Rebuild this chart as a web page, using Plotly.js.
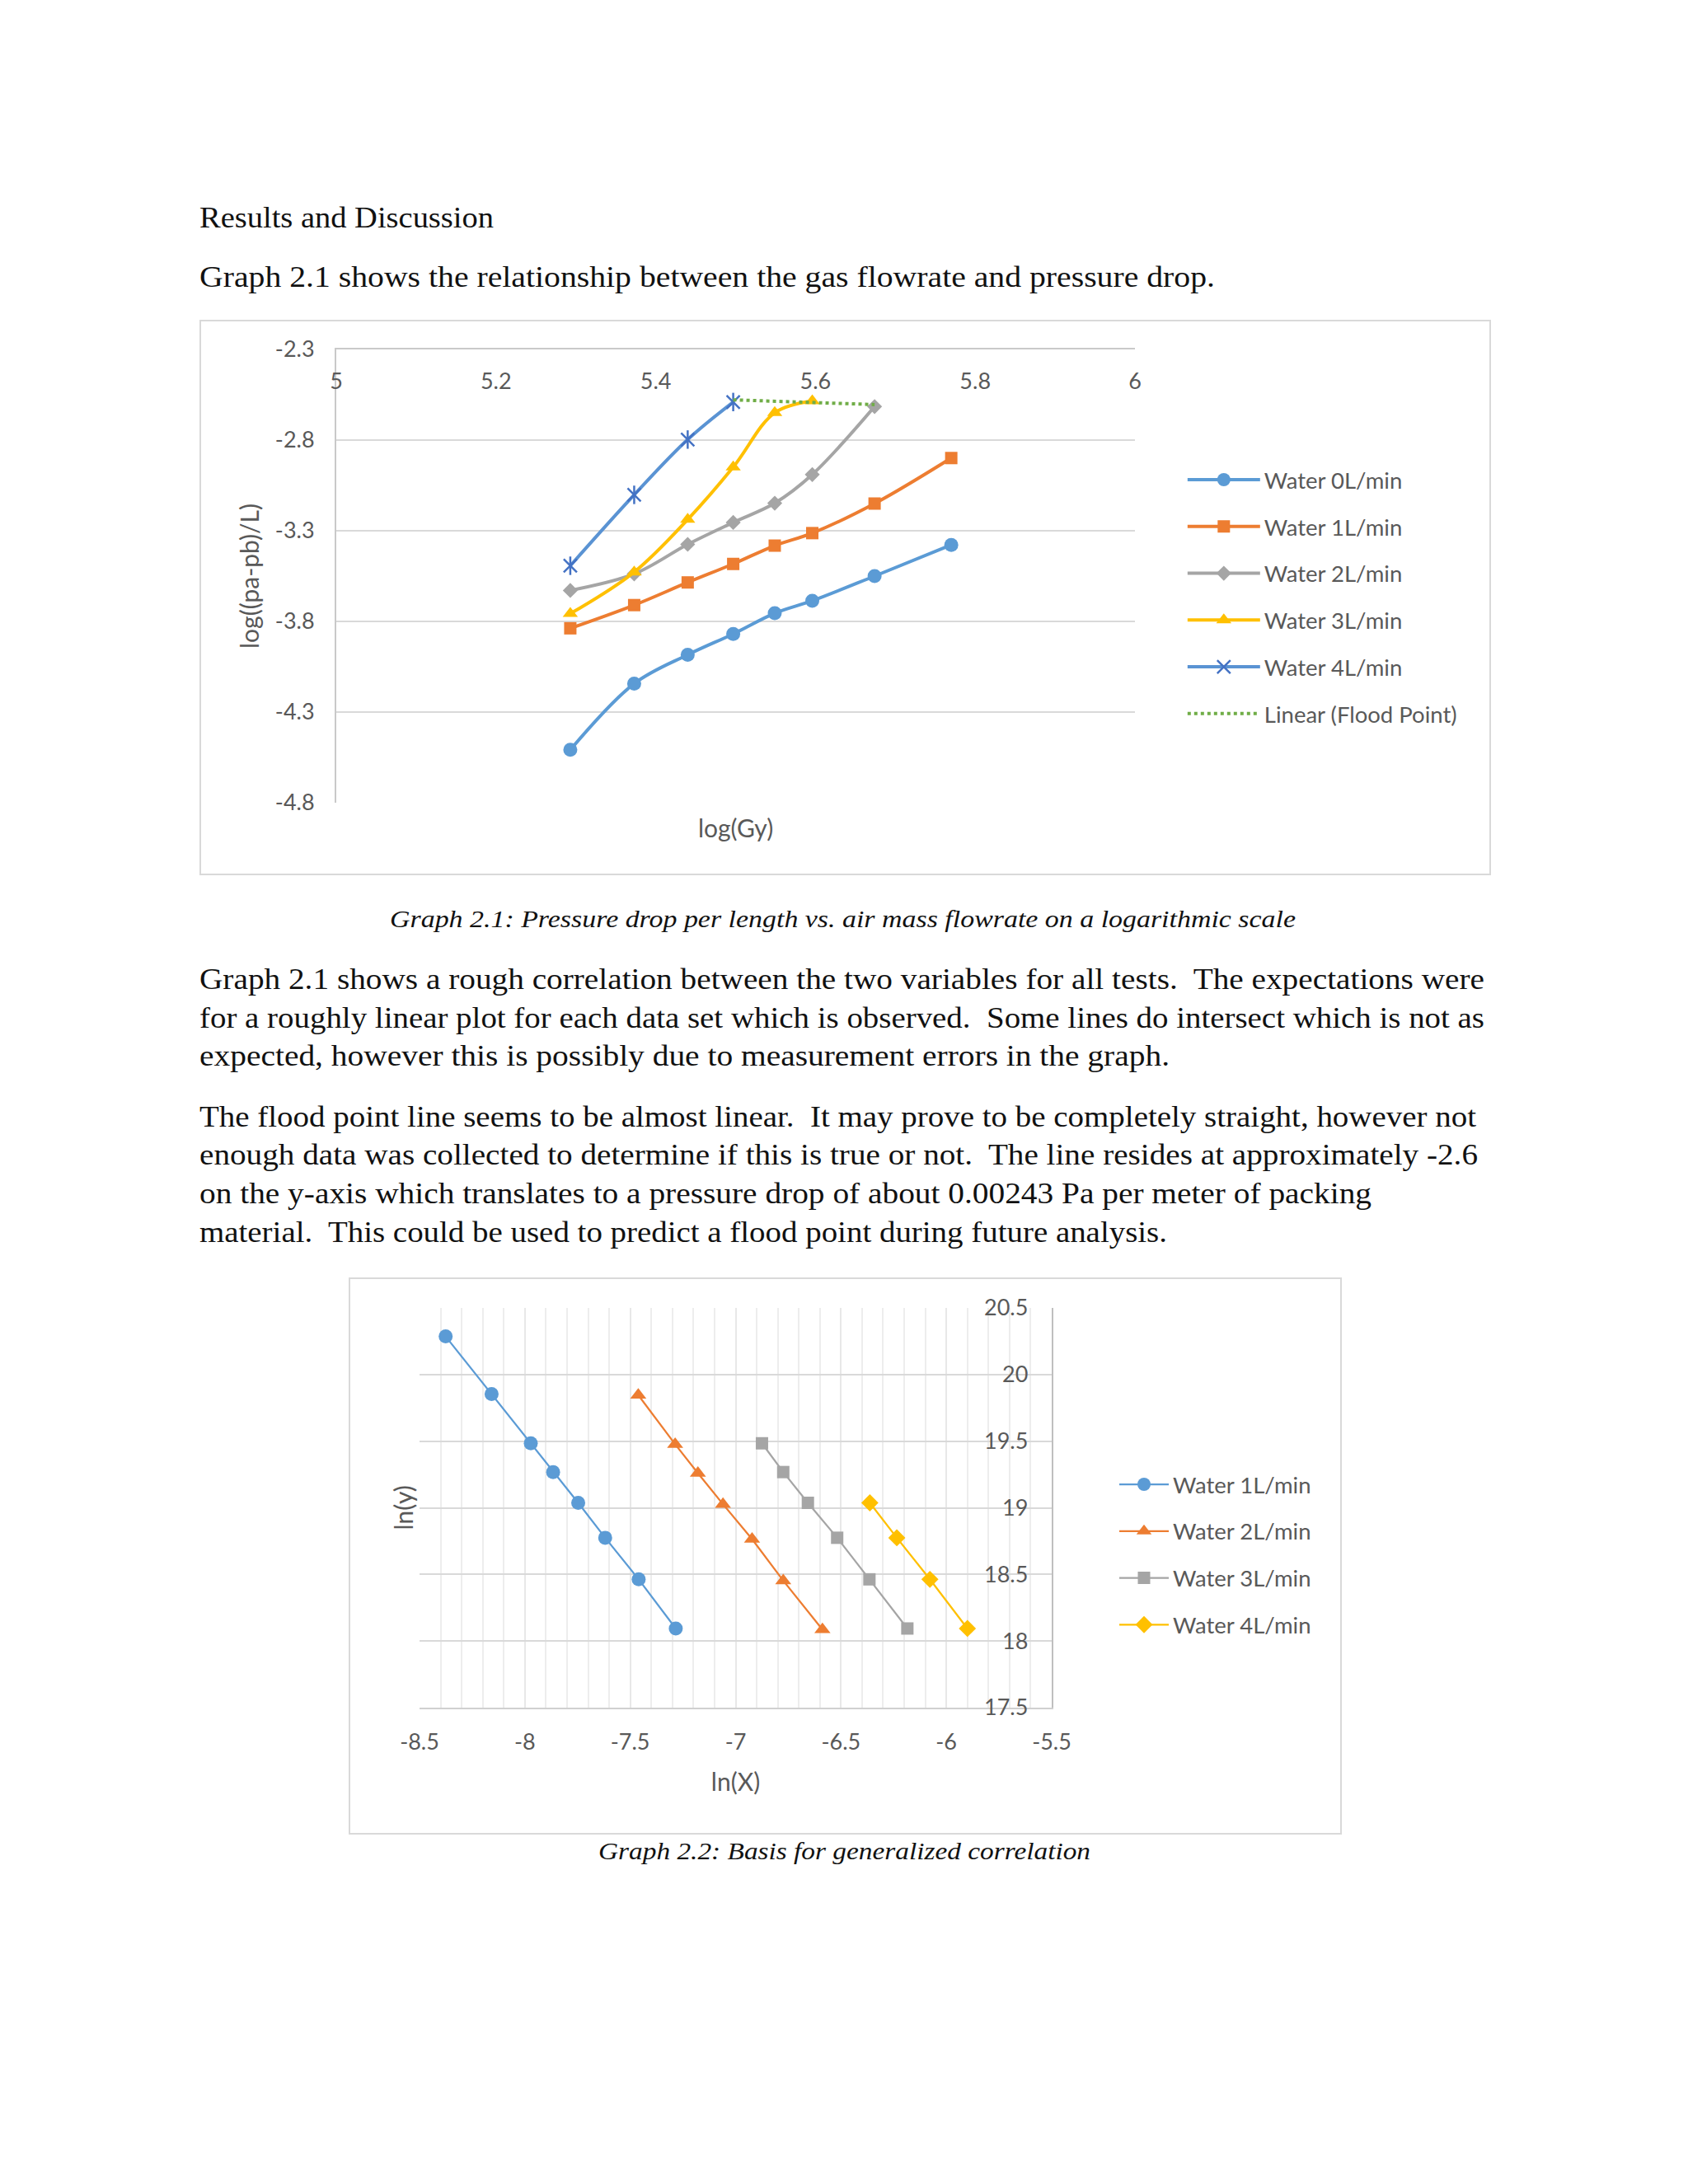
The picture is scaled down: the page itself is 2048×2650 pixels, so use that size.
<!DOCTYPE html>
<html><head><meta charset="utf-8">
<script src="https://cdn.plot.ly/plotly-3.0.1.min.js"></script>
<style>
html,body{margin:0;padding:0;background:#fff;}
#page{position:relative;width:2048px;height:2650px;background:#fff;overflow:hidden;}
.ln{position:absolute;white-space:pre;font-family:"Liberation Serif","Times New Roman",serif;color:#111;transform-origin:0 0;line-height:1;}
.frame{position:absolute;box-sizing:border-box;border:2px solid #D9D9D9;}
.plot{position:absolute;}
</style></head>
<body>
<div id="page">
  <div class="frame" style="left:242px;top:388px;width:1567px;height:674px;"></div>
  <div id="chart1" class="plot" style="left:242px;top:388px;width:1567px;height:674px;"></div>
  <div class="frame" style="left:423px;top:1550px;width:1205px;height:676px;"></div>
  <div id="chart2" class="plot" style="left:423px;top:1550px;width:1205px;height:676px;"></div>
</div>
<script>
// ---------- Graph 2.1 data ----------
const gyLog  = [5.293, 5.373, 5.440, 5.497, 5.549, 5.596, 5.674, 5.770];
const water0 = [-4.508, -4.143, -3.984, -3.869, -3.755, -3.686, -3.550, -3.378];
const water1 = [-3.838, -3.710, -3.585, -3.483, -3.382, -3.313, -3.150, -2.899];
const water2 = [-3.629, -3.538, -3.375, -3.254, -3.148, -2.990, -2.615];
const water3 = [-3.757, -3.528, -3.238, -2.949, -2.649, -2.584];
const water4 = [-3.493, -3.102, -2.797, -2.590];
const floodX = [5.497, 5.674];
const floodY = [-2.578, -2.604];
const x1Ticks  = [5, 5.2, 5.4, 5.6, 5.8, 6];
const x1Labels = ['5', '5.2', '5.4', '5.6', '5.8', '6'];
const y1Ticks  = [-4.8, -4.3, -3.8, -3.3, -2.8, -2.3];
const y1Labels = ['-4.8', '-4.3', '-3.8', '-3.3', '-2.8', '-2.3'];

// ---------- Graph 2.2 data ----------
const lnX1 = [-8.376, -8.158, -7.972, -7.866, -7.747, -7.619, -7.460, -7.284];
const lnY1 = [20.286, 19.854, 19.484, 19.268, 19.037, 18.775, 18.463, 18.094];
const lnX2 = [-7.462, -7.287, -7.179, -7.060, -6.922, -6.774, -6.588];
const lnY2 = [19.846, 19.477, 19.260, 19.027, 18.765, 18.453, 18.086];
const lnX3 = [-6.875, -6.774, -6.657, -6.518, -6.365, -6.185];
const lnY3 = [19.484, 19.268, 19.037, 18.775, 18.463, 18.094];
const lnX4 = [-6.363, -6.235, -6.078, -5.900];
const lnY4 = [19.037, 18.775, 18.463, 18.094];
const x2Ticks  = [-8.5, -8, -7.5, -7, -6.5, -6, -5.5];
const x2Labels = ['-8.5', '-8', '-7.5', '-7', '-6.5', '-6', '-5.5'];
const y2Ticks  = [17.5, 18, 18.5, 19, 19.5, 20, 20.5];
const y2Labels = ['17.5', '18', '18.5', '19', '19.5', '20', '20.5'];

// ---------- page text ----------
const textLines = [
  {t:"Results and Discussion", b:276, x:242, w:357, fs:35},
  {t:"Graph 2.1 shows the relationship between the gas flowrate and pressure drop.", b:348, x:242, w:1232, fs:35},
  {t:"Graph 2.1: Pressure drop per length vs. air mass flowrate on a logarithmic scale", b:1125, x:473, w:1099, fs:30, it:true},
  {t:"Graph 2.1 shows a rough correlation between the two variables for all tests.  The expectations were", b:1200, x:242, w:1559, fs:35},
  {t:"for a roughly linear plot for each data set which is observed.  Some lines do intersect which is not as", b:1247, x:242, w:1559, fs:35},
  {t:"expected, however this is possibly due to measurement errors in the graph.", b:1293, x:242, w:1177, fs:35},
  {t:"The flood point line seems to be almost linear.  It may prove to be completely straight, however not", b:1367, x:242, w:1549, fs:35},
  {t:"enough data was collected to determine if this is true or not.  The line resides at approximately -2.6", b:1413, x:242, w:1551, fs:35},
  {t:"on the y-axis which translates to a pressure drop of about 0.00243 Pa per meter of packing", b:1460, x:242, w:1422, fs:35},
  {t:"material.  This could be used to predict a flood point during future analysis.", b:1507, x:242, w:1174, fs:35},
  {t:"Graph 2.2: Basis for generalized correlation", b:2256, x:726, w:597, fs:30, it:true}
];
const page = document.getElementById('page');
textLines.forEach(L => {
  const d = document.createElement('div');
  d.className = 'ln';
  d.style.fontSize = L.fs + 'px';
  if (L.it) d.style.fontStyle = 'italic';
  d.style.left = L.x + 'px';
  d.style.top = '0px';
  d.textContent = L.t;
  const mark = document.createElement('span');
  mark.style.cssText = 'display:inline-block;width:0;height:0;vertical-align:baseline;';
  d.appendChild(mark);
  page.appendChild(d);
  const base = mark.offsetTop;
  const wNat = d.getBoundingClientRect().width;
  d.style.top = (L.b - base) + 'px';
  d.style.transform = 'scaleX(' + (L.w / wNat) + ')';
});

const FONT = 'Lato, "Open Sans", sans-serif';
const GRAY = '#595959';
const TICK = 27, LEG = 27.5, TTL = 30;

// ---------- Chart 1 ----------
const c1 = [
  {x: gyLog, y: water0, name: 'Water 0L/min', mode: 'lines+markers', legendgroup: 'g0',
   line: {color: '#5B9BD5', width: 4, shape: 'spline'}, marker: {symbol: 'circle', size: 17, color: '#5B9BD5'}},
  {x: gyLog, y: water1, name: 'Water 1L/min', mode: 'lines+markers', legendgroup: 'g1',
   line: {color: '#ED7D31', width: 4, shape: 'spline'}, marker: {symbol: 'square', size: 15, color: '#ED7D31'}},
  {x: gyLog.slice(0, water2.length), y: water2, name: 'Water 2L/min', mode: 'lines+markers', legendgroup: 'g2',
   line: {color: '#A5A5A5', width: 4, shape: 'spline'}, marker: {symbol: 'diamond', size: 14, color: '#A5A5A5'}},
  {x: gyLog.slice(0, water3.length), y: water3, name: 'Water 3L/min', mode: 'lines+markers', legendgroup: 'g3',
   line: {color: '#FFC000', width: 4, shape: 'spline'}, marker: {symbol: 'triangle-up', size: 16, color: '#FFC000'}},
  {x: gyLog.slice(0, water4.length), y: water4, name: 'Water 4L/min', mode: 'lines+markers', legendgroup: 'g4',
   line: {color: '#5A93D3', width: 4, shape: 'spline'},
   marker: {symbol: 'x-thin-open', size: 16, color: '#4472C4', line: {width: 2.5, color: '#4472C4'}}},
  {x: gyLog.slice(0, water4.length), y: water4, name: 'Water 4L/min', mode: 'markers', legendgroup: 'g4', showlegend: false,
   marker: {symbol: 'line-ns-open', size: 16, color: '#4472C4', line: {width: 2.5, color: '#4472C4'}}},
  {x: floodX, y: floodY, name: 'Linear (Flood Point)', mode: 'lines', legendgroup: 'g5',
   line: {color: '#70AD47', width: 4, dash: 'dot'}}
];
const l1 = {
  width: 1567, height: 674,
  margin: {l: 166, r: 432, t: 36, b: 88},
  paper_bgcolor: 'rgba(0,0,0,0)', plot_bgcolor: 'rgba(0,0,0,0)',
  font: {family: FONT, size: TICK, color: GRAY},
  showlegend: true,
  xaxis: {range: [5, 6], side: 'top', tickmode: 'array', tickvals: x1Ticks, ticktext: x1Labels,
          ticklabelposition: 'inside', ticklabeloverflow: 'allow', ticklabelstandoff: 32,
          showline: true, linecolor: '#C9C9C9', linewidth: 2, showgrid: false, zeroline: false, ticks: '',
          tickfont: {family: FONT, size: TICK, color: GRAY}},
  yaxis: {range: [-4.8, -2.3], tickmode: 'array', tickvals: y1Ticks, ticktext: y1Labels,
          showgrid: true, gridcolor: '#D9D9D9', gridwidth: 2, showline: true, linecolor: '#C9C9C9', linewidth: 2,
          zeroline: false, ticks: '', ticklabelstandoff: 19,
          tickfont: {family: FONT, size: TICK, color: GRAY},
          title: {text: 'log((pa-pb)/L)', font: {family: FONT, size: TTL, color: GRAY}, standoff: 10}},
  legend: {x: 1.0607, xanchor: 'left', y: 0.757, yanchor: 'top', traceorder: 'grouped', tracegroupgap: 18,
           itemwidth: 88,
           font: {family: FONT, size: LEG, color: GRAY}, bgcolor: 'rgba(0,0,0,0)'},
  annotations: [{text: 'log(Gy)', xref: 'paper', yref: 'paper', x: 0.5, y: 0, yanchor: 'middle', yshift: -30,
                 showarrow: false, font: {family: FONT, size: TTL, color: GRAY}}]
};
Plotly.newPlot('chart1', c1, l1, {staticPlot: true, displayModeBar: false});

// ---------- Chart 2 ----------
const c2 = [
  {x: lnX1, y: lnY1, name: 'Water 1L/min', mode: 'lines+markers', legendgroup: 'h1',
   line: {color: '#5B9BD5', width: 2.25}, marker: {symbol: 'circle', size: 17, color: '#5B9BD5'}},
  {x: lnX2, y: lnY2, name: 'Water 2L/min', mode: 'lines+markers', legendgroup: 'h2',
   line: {color: '#ED7D31', width: 2.25}, marker: {symbol: 'triangle-up', size: 17, color: '#ED7D31'}},
  {x: lnX3, y: lnY3, name: 'Water 3L/min', mode: 'lines+markers', legendgroup: 'h3',
   line: {color: '#A5A5A5', width: 2.25}, marker: {symbol: 'square', size: 15, color: '#A5A5A5'}},
  {x: lnX4, y: lnY4, name: 'Water 4L/min', mode: 'lines+markers', legendgroup: 'h4',
   line: {color: '#FFC000', width: 2.25}, marker: {symbol: 'diamond', size: 16, color: '#FFC000'}}
];
const l2 = {
  width: 1205, height: 676,
  margin: {l: 86, r: 352, t: 37, b: 154},
  paper_bgcolor: 'rgba(0,0,0,0)', plot_bgcolor: 'rgba(0,0,0,0)',
  font: {family: FONT, size: TICK, color: GRAY},
  showlegend: true,
  xaxis: {range: [-8.5, -5.5], tickmode: 'array', tickvals: x2Ticks, ticktext: x2Labels,
          showgrid: true, gridcolor: '#E8E8E8', gridwidth: 2,
          minor: {tickmode: 'linear', tick0: -8.5, dtick: 0.1, showgrid: true, gridcolor: '#EDEDED', gridwidth: 2, ticks: ''},
          showline: true, linecolor: '#D0D0D0', linewidth: 2, zeroline: false, ticks: '', ticklabelstandoff: 17,
          tickfont: {family: FONT, size: TICK, color: GRAY},
          title: {text: 'ln(X)', font: {family: FONT, size: TTL, color: GRAY}, standoff: 24}},
  yaxis: {range: [17.5, 20.5], side: 'right', tickmode: 'array', tickvals: y2Ticks, ticktext: y2Labels,
          ticklabelposition: 'inside', ticklabeloverflow: 'allow', ticklabelstandoff: 31,
          showgrid: true, gridcolor: '#D9D9D9', gridwidth: 2, showline: true, linecolor: '#BFBFBF', linewidth: 2,
          zeroline: false, ticks: '', tickfont: {family: FONT, size: TICK, color: GRAY}},
  legend: {x: 1.1004, xanchor: 'left', y: 0.609, yanchor: 'top', traceorder: 'grouped', tracegroupgap: 18,
           itemwidth: 60,
           font: {family: FONT, size: LEG, color: GRAY}, bgcolor: 'rgba(0,0,0,0)'},
  annotations: [{text: 'ln(y)', textangle: -90, xref: 'paper', yref: 'paper', x: 0, xshift: -21, y: 0.5,
                 xanchor: 'center', yanchor: 'middle', showarrow: false, font: {family: FONT, size: TTL, color: GRAY}}]
};
Plotly.newPlot('chart2', c2, l2, {staticPlot: true, displayModeBar: false});
</script>
</body></html>
